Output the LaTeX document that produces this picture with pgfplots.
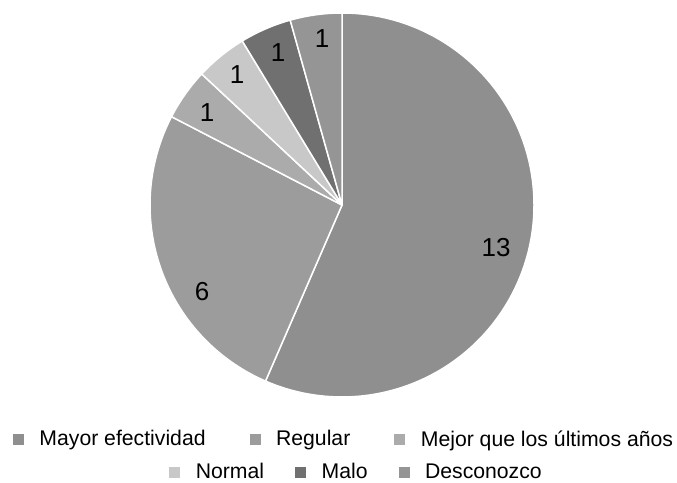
\documentclass[border=0pt]{standalone}
\usepackage{fontspec}
\setmainfont{Liberation Sans}
\usepackage{pgfplots}
\usepackage{pgfplotstable}
\pgfplotsset{compat=1.18}

\definecolor{c0}{HTML}{8F8F8F}
\definecolor{c1}{HTML}{9C9C9C}
\definecolor{c2}{HTML}{ABABAB}
\definecolor{c3}{HTML}{C8C8C8}
\definecolor{c4}{HTML}{707070}
\definecolor{c5}{HTML}{959595}

% idx: 0 Mayor efectividad, 1 Regular, 2 Mejor que los ultimos anos, 3 Normal, 4 Malo, 5 Desconozco
\pgfplotstableread{
idx value lx ly
0 13 496 234
1 6 202 190
2 1 207 369
3 1 237 407
4 1 278 429
5 1 322 443
}\piedata

\pgfplotsset{
  pieaxis/.style={
    hide axis, scale only axis, x=1pt, y=1pt,
    xmin=0, xmax=677, ymin=0, ymax=482, clip=false,
    legend image code/.code={\fill[##1, draw=none] (0pt,-5.5pt) rectangle (11pt,5.5pt);
      \path[draw=none, fill=none] (0pt,0pt) -- (26.5pt,0pt);},
    legend style={draw=none, fill=none, font=\fontsize{21.2}{23}\selectfont,
      legend columns=-1, anchor=center, inner sep=0pt, outer sep=0pt,
      nodes={inner sep=0pt, outer sep=0pt}},
  }
}

\begin{document}
\begin{tikzpicture}
\xdef\cum{0}
\foreach \i in {0,...,5}{%
  \pgfplotstablegetelem{\i}{value}\of\piedata
  \let\val\pgfplotsretval
  \expandafter\xdef\csname v\i\endcsname{\val}%
  \pgfmathsetmacro\sa{90-360*\cum/23}%
  \pgfmathsetmacro\ea{90-360*(\cum+\val)/23}%
  \expandafter\xdef\csname sa\i\endcsname{\sa}%
  \expandafter\xdef\csname ea\i\endcsname{\ea}%
  \pgfmathsetmacro\nc{\cum+\val}%
  \xdef\cum{\nc}%
  \pgfplotstablegetelem{\i}{lx}\of\piedata
  \expandafter\xdef\csname lx\i\endcsname{\pgfplotsretval}%
  \pgfplotstablegetelem{\i}{ly}\of\piedata
  \expandafter\xdef\csname ly\i\endcsname{\pgfplotsretval}%
}
\begin{axis}[pieaxis,
  legend style={at={(axis cs:343,43)},
    /tikz/every even column/.append style={column sep=44pt}}]
\path (axis cs:0,0) rectangle (axis cs:677,482);
\pgfplotsinvokeforeach{0,...,5}{
  \filldraw[fill=c#1, draw=white, line width=1.5pt, line join=round]
    (axis cs:342,277) -- ++(\csname sa#1\endcsname:192pt)
    arc[start angle=\csname sa#1\endcsname, end angle=\csname ea#1\endcsname, radius=192pt] -- cycle;
}
\pgfplotsinvokeforeach{0,...,5}{
  \node[font=\fontsize{26}{26}\selectfont] at (axis cs:\csname lx#1\endcsname,\csname ly#1\endcsname) {\csname v#1\endcsname};
}
\addlegendimage{fill=c0}\addlegendentry{Mayor efectividad}
\addlegendimage{fill=c1}\addlegendentry{Regular}
\addlegendimage{fill=c2}\addlegendentry{Mejor que los últimos años}
\end{axis}
\begin{axis}[pieaxis,
  legend style={at={(axis cs:355.5,10)},
    /tikz/every even column/.append style={column sep=31pt}}]
\addlegendimage{fill=c3}\addlegendentry{Normal}
\addlegendimage{fill=c4}\addlegendentry{Malo}
\addlegendimage{fill=c5}\addlegendentry{Desconozco}
\end{axis}
\end{tikzpicture}
\end{document}
